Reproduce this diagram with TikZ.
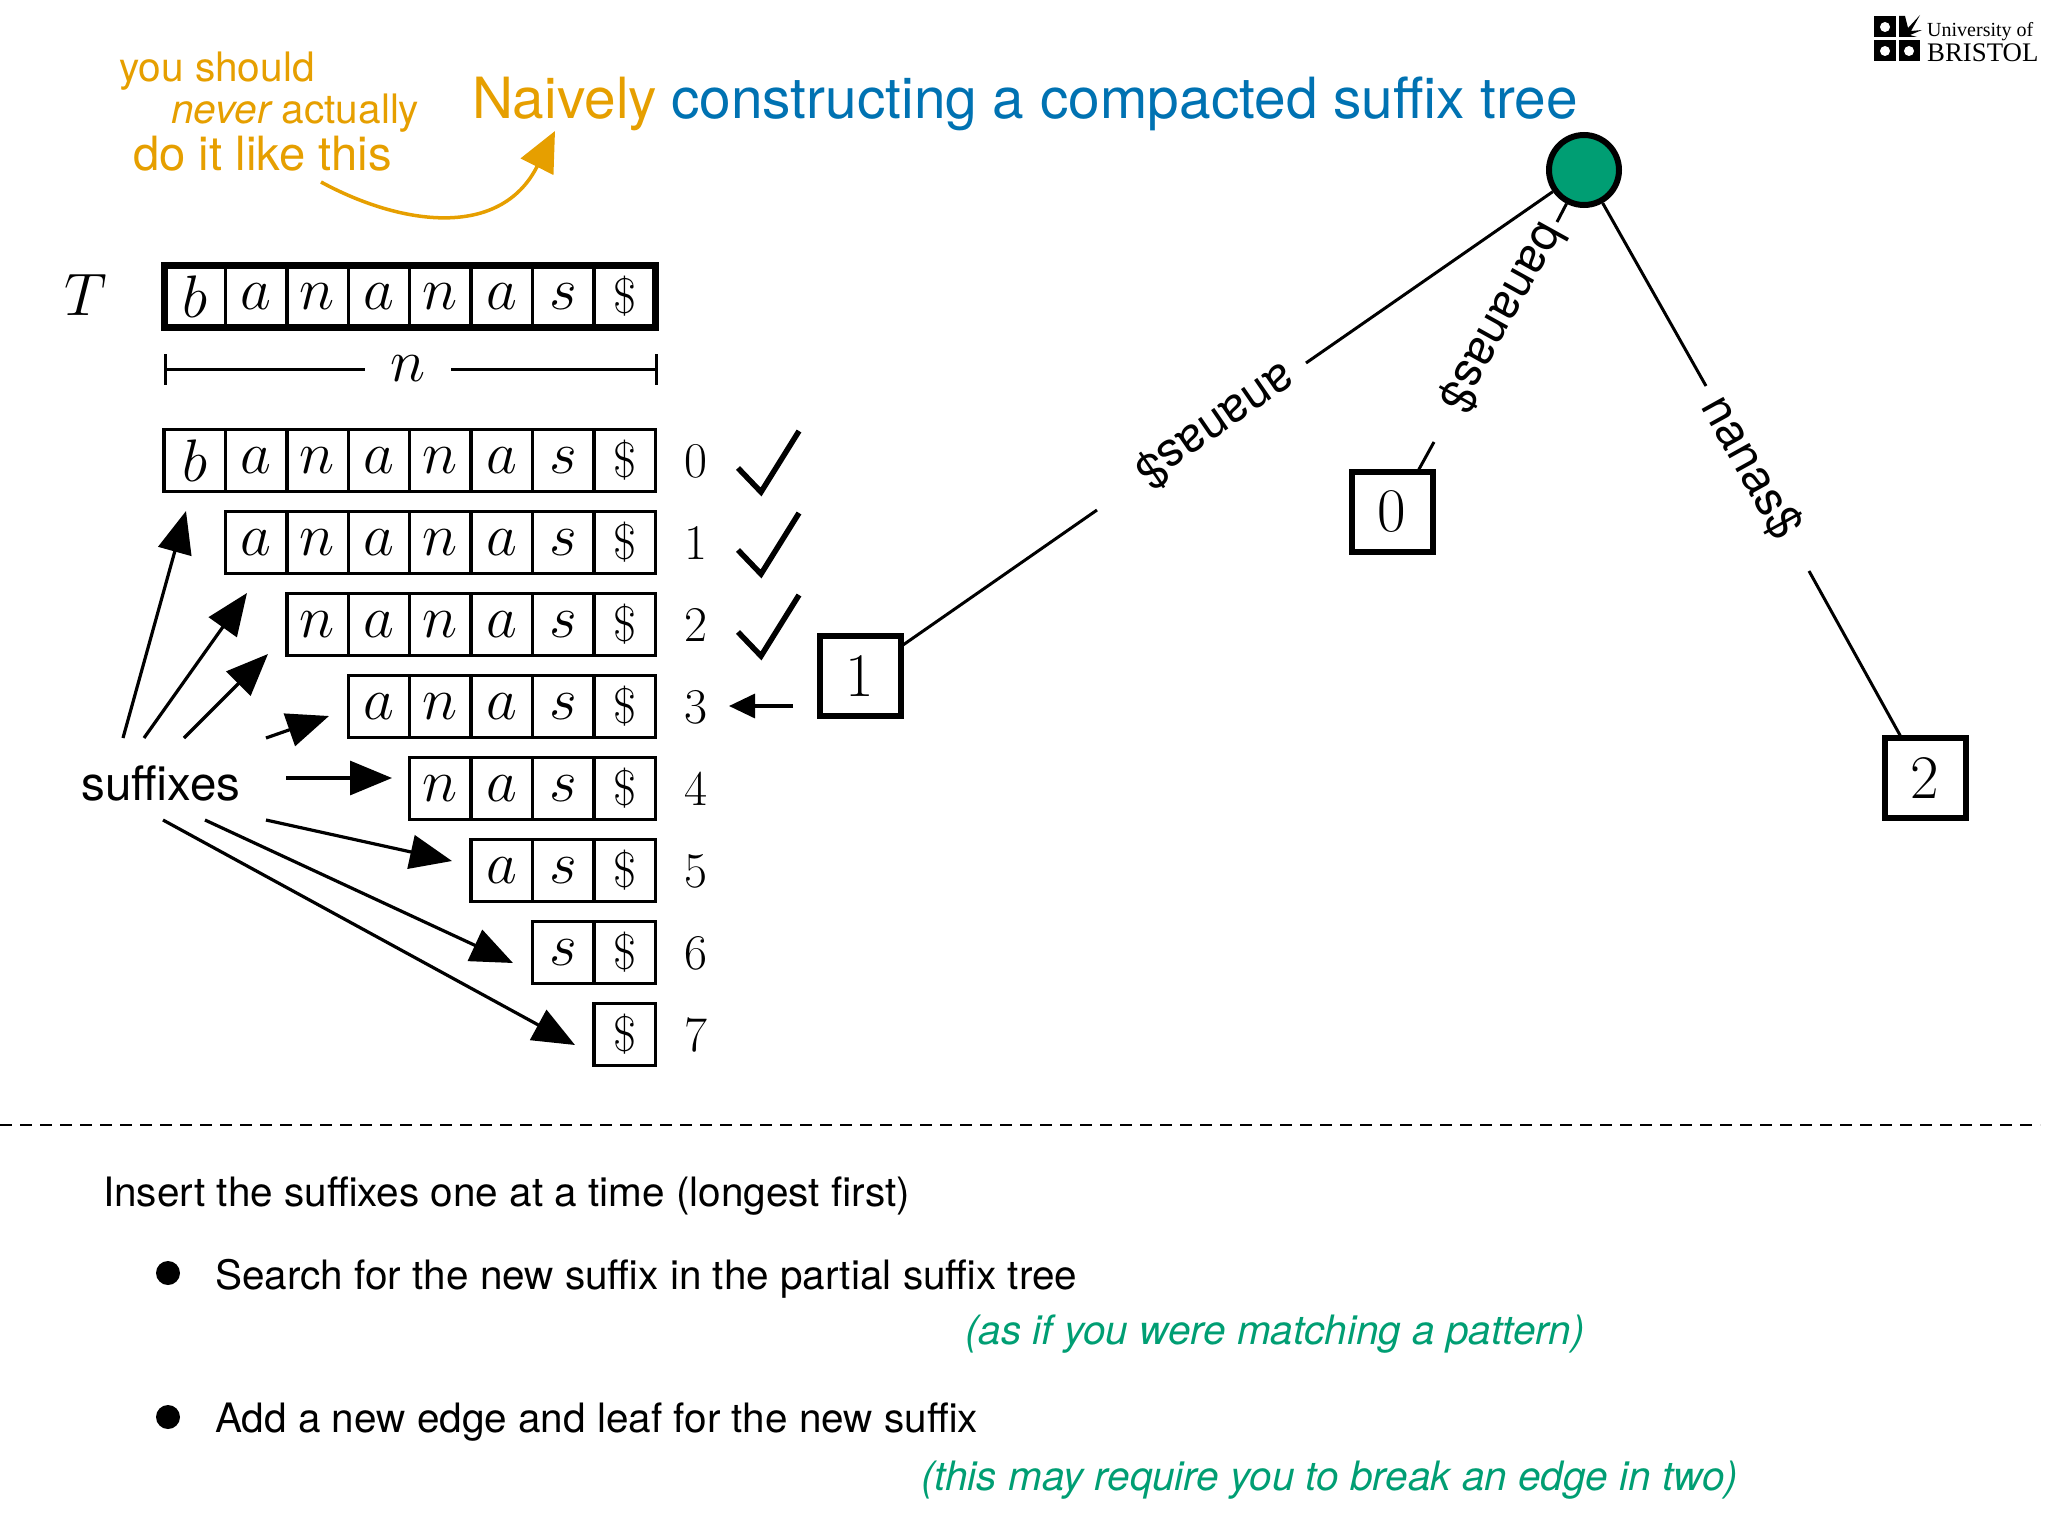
\documentclass[tikz,border=0pt]{standalone}
\usepackage{fix-cm}
\usepackage{fontspec}
\setmainfont{TeX Gyre Heros}
\newfontfamily\logofont{Liberation Serif}
\newfontfamily\lmr{Latin Modern Roman}
\usetikzlibrary{arrows.meta,shapes.geometric}
\definecolor{gorange}{HTML}{E69F00}
\definecolor{gblue}{HTML}{0072B2}
\definecolor{ggreen}{HTML}{009E73}
\newcommand{\fs}[1]{\fontsize{#1}{#1}\selectfont}
\newcommand{\dol}{{\fs{50}\lmr \$}}
\tikzset{
  cellbox/.style={draw,line width=3.4pt,minimum width=61.4pt,minimum height=61.5pt,inner sep=0pt,outer sep=0pt,font=\fs{60}},
  idx/.style={inner sep=0pt,font=\fs{50}\lmr},
  leaf/.style={draw,line width=6pt,minimum width=81pt,minimum height=80pt,inner sep=0pt,font=\fs{62}\lmr},
  edgetxt/.style={inner sep=0pt,font=\fs{47.5}},
  edgeline/.style={line width=3pt},
  sufarrow/.style={line width=3.2pt,-{Triangle[length=42pt,width=34pt]}},
  body/.style={inner sep=0pt,anchor=base west,font=\fs{40.5}},
  note/.style={inner sep=0pt,anchor=base west,font=\fs{40.5}\itshape,text=ggreen},
  tick/.style={line width=3pt},
  chk/.style={line width=5.5pt,line join=miter},
}
\begin{document}
\begin{tikzpicture}[x=1pt,y=-1pt]
\useasboundingbox (0,0) rectangle (2048,1536);
% title
\node[inner sep=0pt,anchor=base west,font=\fs{56.8},text=gorange] (ttl1) at (472,119) {Naively};
\node[inner sep=0pt,anchor=base west,font=\fs{56.8},text=gblue] (ttl2) at (671,119) {constructing a compacted suffix tree};
% note
\node[inner sep=0pt,anchor=base west,font=\fs{40.6},text=gorange] (n1) at (119,82) {you should};
\node[inner sep=0pt,anchor=base west,font=\fs{40.6},text=gorange] (n2) at (171,124) {\itshape never\upshape\ actually};
\node[inner sep=0pt,anchor=base west,font=\fs{47.2},text=gorange] (n3) at (133,170) {do it like this};
\coordinate (cs) at (321,182);
\coordinate (ce) at (555,131);
\draw[gorange,line width=3.5pt,-{Triangle[length=40pt,width=36pt]}] (cs) .. controls (400,225) and (500,240) .. (ce);
% logo
\fill (1874,16) rectangle (1896,37);
\fill (1874,40) rectangle (1896,61);
\fill (1899,40) rectangle (1920,61);
\fill (1899,37) -- (1899,16) -- (1905,16) -- (1908,28) -- (1920,15) -- (1911,31) -- (1922,30) -- (1910,35) -- (1917,37) -- cycle;
\fill[white] (1885,27) circle (5pt);
\fill[white] (1885,51) circle (5pt);
\fill[white] (1909,51) circle (5pt);
\node[inner sep=0pt,anchor=base west,font=\fs{20}\logofont] (lg1) at (1927,37) {University of};
\node[inner sep=0pt,anchor=base west,font=\fs{26.8}\logofont] (lg2) at (1927,62) {BRISTOL};
% T row
\node[inner sep=0pt,font=\fs{60}] (T) at (86,295) {$T$};
\foreach \c/\l in {0/b,1/a,2/n,3/a,4/n,5/a,6/s} {
  \node[cellbox] (t\c) at ({164+61.4*(\c+0.5)},296.5) {$\l$};
}
\node[cellbox] (t7) at ({164+61.4*7.5},296.5) {\dol};
\draw[line width=7pt] (t0.north west) rectangle (t7.south east);
% n
\node[inner sep=0pt,font=\fs{60}] (nn) at (408,369) {$n$};
\coordinate (nl) at (165,369);
\coordinate (nr) at (656,369);
\draw[tick] (nl) -- (365,369);
\draw[tick] (451,369) -- (nr);
\draw[tick] (165,354) -- (165,385);
\draw[tick] (656,354) -- (656,385);
% rows
\foreach \r/\cells in {%
  0/{0/b,1/a,2/n,3/a,4/n,5/a,6/s},
  1/{1/a,2/n,3/a,4/n,5/a,6/s},
  2/{2/n,3/a,4/n,5/a,6/s},
  3/{3/a,4/n,5/a,6/s},
  4/{4/n,5/a,6/s},
  5/{5/a,6/s},
  6/{6/s}} {
  \foreach \c/\l in \cells {
    \node[cellbox] (r\r c\c) at ({164+61.4*(\c+0.5)},{460.5+82*\r}) {$\l$};
  }
}
\foreach \r in {0,...,7} {
  \node[cellbox] (r\r c7) at ({164+61.4*7.5},{460.5+82*\r}) {\dol};
  \node[idx] (i\r) at (696,{461+82*\r}) {\r};
}
% checks
\foreach \r in {0,1,2} {
  \draw[chk] ({738},{468+82*\r}) -- ({761},{492+82*\r}) -- ({799},{431+82*\r});
}
% suffixes
\node[inner sep=0pt,font=\fs{47.5}] (suf) at (161,783) {suffixes};
\coordinate (s0) at (123,738);\coordinate (e0) at (186,511);
\coordinate (s1) at (144,738);\coordinate (e1) at (247,593);
\coordinate (s2) at (184,738);\coordinate (e2) at (268,654);
\coordinate (s3) at (266,738);\coordinate (e3) at (329,716);
\coordinate (s4) at (286,778);\coordinate (e4) at (392,778);
\coordinate (s5) at (266,820);\coordinate (e5) at (452,861);
\coordinate (s6) at (205,820);\coordinate (e6) at (513,963);
\coordinate (s7) at (163,820);\coordinate (e7) at (575,1045);
\foreach \i in {0,...,7} { \draw[sufarrow] (s\i) -- (e\i); }
% tree
\node[draw,circle,fill=ggreen,line width=6pt,minimum size=70pt,inner sep=0pt] (root) at (1584,170) {};
\node[leaf] (L1) at (860,676) {1};
\node[leaf] (L0) at (1392,512) {0};
\node[leaf] (L2) at (1925,778) {2};
\coordinate (a3) at (793,706);\coordinate (b3) at (729,706);
\draw[line width=3.4pt,-{Triangle[length=26pt,width=24pt]}] (a3) -- (b3);
\coordinate (g1a) at (1306,363);\coordinate (g1b) at (1097,510);\coordinate (c1) at (903,645);
\draw[edgeline] (root) -- (g1a);
\draw[edgeline] (g1b) -- (c1);
\node[edgetxt,rotate=214.5] (lb1) at (1216,426) {ananas\$};
\coordinate (g0a) at (1557,222);\coordinate (g0b) at (1434,442);\coordinate (c0) at (1418,471);
\draw[edgeline] (root) -- (g0a);
\draw[edgeline] (g0b) -- (c0);
\node[edgetxt,rotate=241] (lb0) at (1503,318) {bananas\$};
\coordinate (g2a) at (1706,386);\coordinate (g2b) at (1809,571);\coordinate (c2) at (1901,737);
\draw[edgeline] (root) -- (g2a);
\draw[edgeline] (g2b) -- (c2);
\node[edgetxt,rotate=-61] (lb2) at (1752,467) {nanas\$};
% divider
\coordinate (dl) at (0,1125);\coordinate (dr) at (2040,1125);
\draw[line width=2.5pt,dash pattern=on 12pt off 8pt] (dl) -- (dr);
% text
\node[body] (b1) at (103,1206) {Insert the suffixes one at a time (longest first)};
\fill (168,1273) circle (12pt);
\node[body] (b2) at (215,1289) {Search for the new suffix in the partial suffix tree};
\node[note] (b3t) at (965,1344) {(as if you were matching a pattern)};
\fill (168,1417) circle (12pt);
\node[body] (b4) at (215,1432) {Add a new edge and leaf for the new suffix};
\node[note] (b5) at (921,1490) {(this may require you to break an edge in two)};
\end{tikzpicture}
\end{document}
